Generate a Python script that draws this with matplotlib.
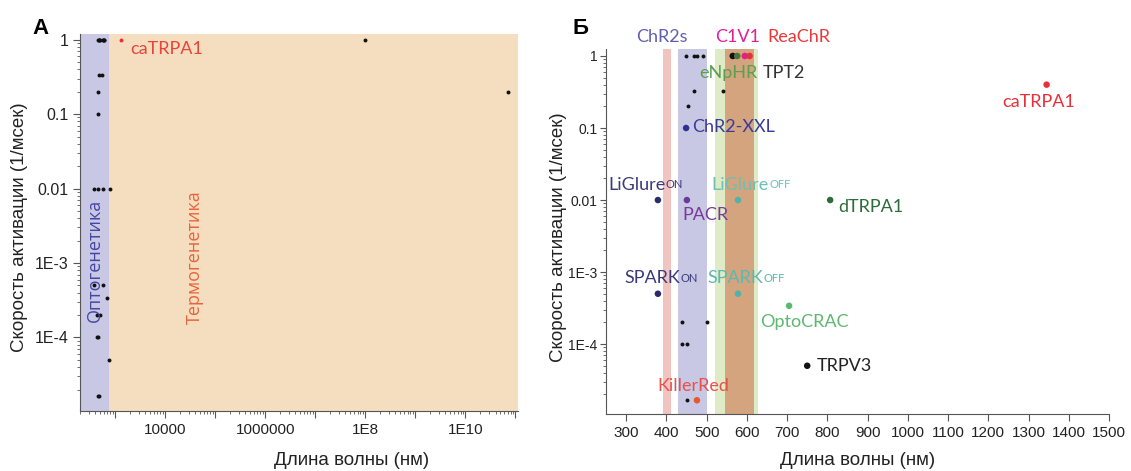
import matplotlib.pyplot as plt
import matplotlib.ticker as ticker
import numpy as np

# длины волн (нм) и скорости активации (1/мсек)
named = ['ChR2-XXL', 'LiGlure', 'PACR', 'LiGlure', 'SPARK', 'SPARK', 'OptoCRAC',
         'dTRPA1', 'TRPV3', 'KillerRed', 'TPT2', 'eNpHR', 'C1V1', 'ReaChR', 'caTRPA1']
named_wl = [449, 379, 451, 578, 379, 578, 705, 807, 750, 476, 565, 576, 595, 607, 1345]
named_rate = [0.1, 0.01, 0.01, 0.01, 5e-4, 5e-4, 3.4e-4, 0.01, 5e-5, 1.66e-5, 1, 1, 1, 1, 0.4]
named_col = ['#2e3192', '#2b2a6b', '#6a3a9a', '#4fb3a9', '#2b2a6b', '#4fb3a9', '#5db870',
             '#2d6b3a', '#111111', '#e8582a', '#111111', '#3d7a3d', '#e0208a', '#e8303a', '#e8303a']

# безымянные черные точки (ChR2s и др.)
other_wl = [449, 469, 476, 491, 469, 541, 454, 439, 501, 439, 451, 451]
other_rate = [1, 1, 1, 1, 0.33, 0.33, 0.2, 2e-4, 2e-4, 1e-4, 1e-4, 1.66e-5]

# точки термогенетики на панели А
thermo_wl = [1345, 1e8, 7e10]
thermo_rate = [1, 1, 0.2]

plt.rcParams['font.family'] = ['Liberation Sans', 'DejaVu Sans']
fig = plt.figure(figsize=(11.31, 4.71), dpi=100)

def style_axes(ax):
    for s in ['top', 'right']:
        ax.spines[s].set_visible(False)
    for s in ['left', 'bottom']:
        ax.spines[s].set_color('#555555')
    ax.tick_params(which='major', direction='out', length=5, color='#555555', labelsize=11,
                   labelcolor='#222222')
    ax.tick_params(which='minor', direction='out', length=2.5, color='#555555')

def yfmt(v, pos):
    d = {1: '1', 0.1: '0.1', 0.01: '0.01', 1e-3: '1E-3', 1e-4: '1E-4'}
    for k, s in d.items():
        if np.isclose(v, k):
            return s
    return ''

def lfont(ax, x, y, text, color, sub=None, size=13, **kw):
    t = ax.text(x, y, text, color=color, fontsize=size, family=['Lato', 'Open Sans'],
                va='center', ha=kw.pop('ha', 'left'), **kw)
    if sub:
        ax.annotate(sub, xy=(1, 0.17), xycoords=t, va='bottom', ha='left', fontsize=8,
                    color=color, family=['Lato', 'Open Sans'])
    return t

# ---------- панель А ----------
ax1 = fig.add_axes([80 / 1131, 1 - 411 / 471, 437.5 / 1131, 377 / 471])
ax1.set_xscale('log')
ax1.set_yscale('log')
ax1.set_xlim(200, 1.1e11)
ax1.set_ylim(1.03e-5, 1.19)
ax1.axvspan(200, 750, color='#c8c8e4', lw=0, zorder=0)
ax1.axvspan(750, 1.1e11, color='#f5dec0', lw=0, zorder=0)
ax1.scatter(other_wl + named_wl[:-1] + thermo_wl[1:], other_rate + named_rate[:-1] + thermo_rate[1:],
            s=8, color='#111111', zorder=3, lw=0)
ax1.scatter(thermo_wl[:1], thermo_rate[:1], s=8, color='#e8303a', zorder=3, lw=0)
style_axes(ax1)
ax1.yaxis.set_tick_params(labelsize=11.5)
ax1.xaxis.set_major_locator(ticker.LogLocator(base=10, numticks=20))
ax1.xaxis.set_minor_locator(ticker.LogLocator(base=10, subs=np.arange(2, 10), numticks=20))

def xfmt(v, pos):
    d = {1e4: '10000', 1e6: '1000000', 1e8: '1E8', 1e10: '1E10'}
    for k, s in d.items():
        if np.isclose(v, k):
            return s
    return ''

ax1.xaxis.set_major_formatter(ticker.FuncFormatter(xfmt))
ax1.xaxis.set_minor_formatter(ticker.NullFormatter())
ax1.yaxis.set_major_formatter(ticker.FuncFormatter(yfmt))
ax1.yaxis.set_minor_formatter(ticker.NullFormatter())
ax1.yaxis.set_minor_locator(ticker.LogLocator(base=10, subs=np.arange(2, 10), numticks=20))
ax1.set_xlabel('Длина волны (нм)', fontsize=13.5, color='#222222')
ax1.xaxis.set_label_coords(0.62, -0.108)
ax1.set_ylabel('Скорость активации (1/мсек)', fontsize=13.5, color='#222222')
ax1.yaxis.set_label_coords(-0.118, 0.487)
lfont(ax1, 2000, 0.75, 'caTRPA1', '#e8453a')
ax1.text(400, 1.1e-3, 'Оптогенетика', rotation=90, color='#4545a5', fontsize=13,
         family=['Open Sans'], ha='center', va='center')
ax1.text(4e4, 1.2e-3, 'Термогенетика', rotation=90, color='#e8643a', fontsize=13,
         family=['Open Sans'], ha='center', va='center')
fig.text(41 / 1131, 1 - 28 / 471, 'А', fontsize=16, fontweight='bold', ha='center', va='center')

# ---------- панель Б ----------
ax2 = fig.add_axes([606 / 1131, 1 - 414 / 471, 503 / 1131, 365 / 471])
ax2.set_yscale('log')
ax2.set_xlim(250, 1500)
ax2.set_ylim(1.07e-5, 1.25)
ax2.axvspan(392, 412, color='#f2c4c0', lw=0, zorder=0)
ax2.axvspan(430, 500, color='#c8c8e4', lw=0, zorder=0)
ax2.axvspan(522, 628, color='#dfeac6', lw=0, zorder=0)
ax2.axvspan(546, 619, color='#d4a47e', lw=0, zorder=0)
ax2.scatter(other_wl, other_rate, s=8, color='#111111', zorder=3, lw=0)
ax2.scatter(named_wl, named_rate, s=22, color=named_col, zorder=4, lw=0)
style_axes(ax2)
ax2.yaxis.set_tick_params(which='major', labelsize=10, length=4, pad=2)
ax2.xaxis.set_major_locator(ticker.MultipleLocator(100))
ax2.yaxis.set_major_formatter(ticker.FuncFormatter(yfmt))
ax2.yaxis.set_minor_formatter(ticker.NullFormatter())
ax2.yaxis.set_minor_locator(ticker.LogLocator(base=10, subs=np.arange(2, 10), numticks=20))
ax2.set_xlabel('Длина волны (нм)', fontsize=13.5, color='#222222')
ax2.xaxis.set_label_coords(0.5, -0.105)
ax2.set_ylabel('Скорость активации (1/мсек)', fontsize=13.5, color='#222222')
ax2.yaxis.set_label_coords(-0.077, 0.485)

lfont(ax2, 389, 1.84, 'ChR2s', '#6060b0', ha='center')
lfont(ax2, 578, 1.84, 'C1V1', '#e0209a', ha='center')
lfont(ax2, 650, 1.84, 'ReaChR', '#e83a3a')
lfont(ax2, 481, 0.58, 'eNpHR', '#5aa050')
lfont(ax2, 640, 0.58, 'TPT2', '#333333')
lfont(ax2, 464, 0.103, 'ChR2-XXL', '#3a3a9a')
lfont(ax2, 255, 0.0162, 'LiGlure', '#3a3a7a', sub='ON')
lfont(ax2, 441, 0.0062, 'PACR', '#7a3a9a')
lfont(ax2, 513, 0.0162, 'LiGlure', '#6cc0b4', sub='OFF')
lfont(ax2, 297, 8.2e-4, 'SPARK', '#3a3a7a', sub='ON')
lfont(ax2, 503, 8.2e-4, 'SPARK', '#5abab0', sub='OFF')
lfont(ax2, 633, 2.04e-4, 'OptoCRAC', '#5db870')
lfont(ax2, 377, 2.6e-5, 'KillerRed', '#e8504a')
lfont(ax2, 774, 5e-5, 'TRPV3', '#222222')
lfont(ax2, 826, 0.008, 'dTRPA1', '#2d6b3a')
lfont(ax2, 1324, 0.23, 'caTRPA1', '#e8303a', ha='center')
fig.text(580 / 1131, 1 - 28 / 471, 'Б', fontsize=16, fontweight='bold', ha='center', va='center')

fig.savefig('out.png', dpi=100)
